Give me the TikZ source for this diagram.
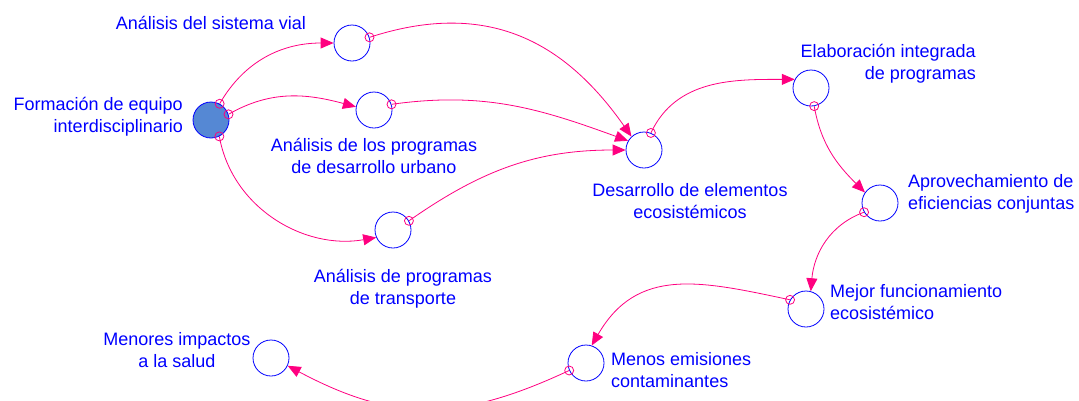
\documentclass[tikz,border=0pt]{standalone}
\usepackage{fontspec}
\setmainfont{Liberation Sans}
\usetikzlibrary{arrows.meta}
\definecolor{lnk}{RGB}{255,0,128}
\definecolor{txt}{RGB}{0,0,255}
\definecolor{fillone}{RGB}{85,136,212}
\begin{document}
\begin{tikzpicture}[x=1pt,y=1pt,
  stock/.style={circle,draw=txt,line width=0.8pt,minimum size=36pt,inner sep=0pt},
  lbl/.style={text=txt,font=\fontsize{18}{22}\selectfont,inner sep=0pt},
  link/.style={draw=lnk,line width=0.8pt,-{Triangle[length=13pt,width=11pt]}},
  mk/.style={draw=lnk,line width=0.8pt}]
\useasboundingbox (0,0) rectangle (1079,-400);
\node[stock,fill=fillone] (f) at (211,-120) {};
\node[stock] (sv) at (352,-43) {};
\node[stock] (pu) at (374,-110) {};
\node[stock] (pt) at (393,-230) {};
\node[stock] (de) at (644,-150) {};
\node[stock] (el) at (811,-88) {};
\node[stock] (ap) at (880,-203) {};
\node[stock] (mf) at (806,-309) {};
\node[stock] (me) at (586,-363) {};
\node[stock] (mi) at (271,-358) {};

\draw[link] (f.62) to[out=60,in=180] (sv.180);
\draw[link] (f.18) to[out=30,in=165] (pu.170);
\draw[link] (f.-63) to[out=-80,in=190] (pt.204);
\draw[link] (sv.18) to[out=18,in=125,looseness=1.1] (de.133);
\draw[link] (pu.18) to[out=8,in=160] (de.150);
\draw[link] (pt.30) to[out=35,in=180] (de.180);
\draw[link] (de.68) to[out=65,in=180] (el.152);
\draw[link] (el.-80) to[out=-80,in=135] (ap.145);
\draw[link] (ap.210) to[out=200,in=85] (mf.75);
\draw[link] (mf.150) to[out=168,in=60,looseness=1.15] (me.72);
\draw[link] (me.204) to[out=205,in=-28,looseness=1.1] (mi.-25);

\foreach \p in {f.62,f.18,f.-63,sv.18,pu.18,pt.30,de.68,el.-80,ap.210,mf.150,me.204}
  \draw[mk] (\p) circle (4.5pt);

\node[lbl,anchor=base] (lsv) at (211,-29) {Análisis del sistema vial};
\node[lbl,align=right,anchor=base east] (lf) at (183,-132) {Formación de equipo\\interdisciplinario};
\node[lbl,align=center,anchor=base] (lpu) at (374,-173) {Análisis de los programas\\de desarrollo urbano};
\node[lbl,align=center,anchor=base] (lpt) at (403,-304) {Análisis de programas\\de transporte};
\node[lbl,align=center,anchor=base] (lde) at (690,-218) {Desarrollo de elementos\\ecosistémicos};
\node[lbl,align=right,anchor=base east] (lel) at (976,-79) {Elaboración integrada\\de programas};
\node[lbl,align=left,anchor=base west] (lap) at (908,-209) {Aprovechamiento de\\eficiencias conjuntas};
\node[lbl,align=left,anchor=base west] (lmf) at (830,-319) {Mejor funcionamiento\\ecosistémico};
\node[lbl,align=left,anchor=base west] (lme) at (611,-387) {Menos emisiones\\contaminantes};
\node[lbl,align=center,anchor=base] (lmi) at (177,-367) {Menores impactos\\a la salud};
\end{tikzpicture}
\end{document}
